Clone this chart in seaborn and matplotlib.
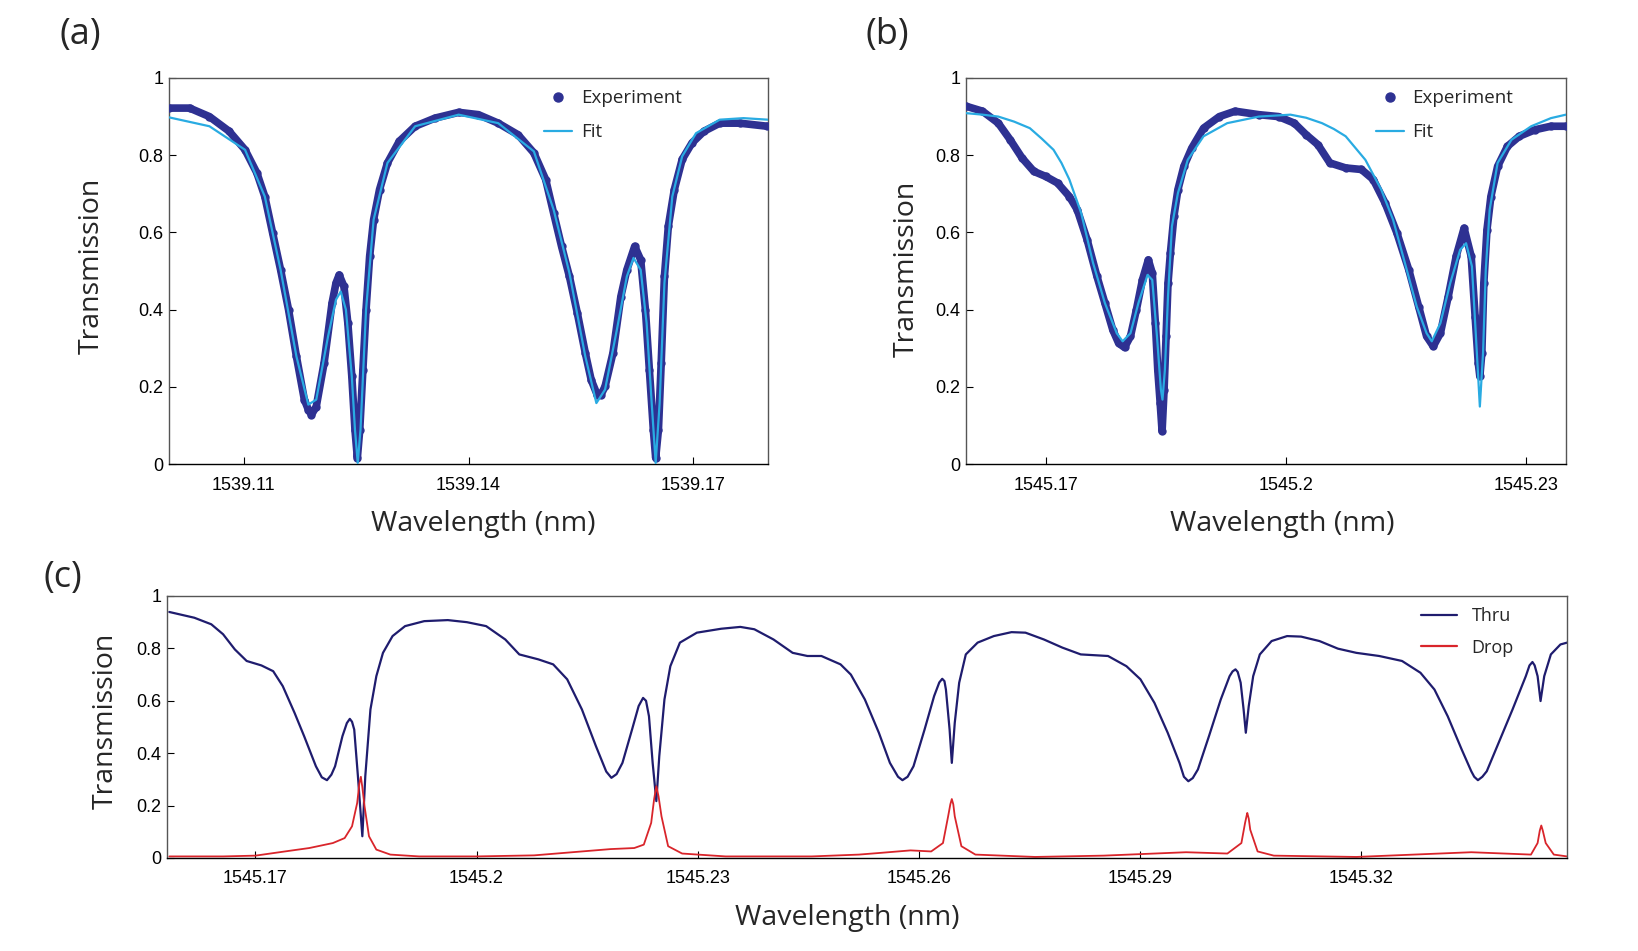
import numpy as np
import pandas as pd
import matplotlib
matplotlib.use("Agg")
import matplotlib.pyplot as plt
from matplotlib.lines import Line2D
from matplotlib.ticker import FixedLocator, FixedFormatter
import seaborn as sns

# ---------------- data ----------------
# (a) 1539 nm resonances
a_exp_wl = [1539.10000, 1539.10275, 1539.10539, 1539.10803, 1539.11015, 1539.11173, 1539.11279, 1539.11384,
            1539.11490, 1539.11596, 1539.11701, 1539.11807, 1539.11860, 1539.11902, 1539.11966, 1539.12071,
            1539.12177, 1539.12230, 1539.12272, 1539.12336, 1539.12388, 1539.12441, 1539.12483, 1539.12515,
            1539.12547, 1539.12589, 1539.12631, 1539.12679, 1539.12732, 1539.12811, 1539.12917, 1539.13075,
            1539.13287, 1539.13551, 1539.13868, 1539.14132, 1539.14396, 1539.14661, 1539.14872, 1539.15030,
            1539.15136, 1539.15242, 1539.15347, 1539.15453, 1539.15559, 1539.15638, 1539.15717, 1539.15770,
            1539.15823, 1539.15929, 1539.16034, 1539.16114, 1539.16219, 1539.16299, 1539.16362, 1539.16415,
            1539.16468, 1539.16499, 1539.16536, 1539.16573, 1539.16616, 1539.16668, 1539.16748, 1539.16853,
            1539.16985, 1539.17144, 1539.17355, 1539.17620, 1539.17989]
a_exp_t = [0.922, 0.922, 0.900, 0.862, 0.814, 0.754, 0.693, 0.598, 0.503, 0.400,
           0.279, 0.167, 0.141, 0.128, 0.149, 0.262, 0.417, 0.469, 0.490, 0.460,
           0.365, 0.227, 0.089, 0.016, 0.089, 0.244, 0.400, 0.538, 0.633, 0.711,
           0.780, 0.836, 0.875, 0.896, 0.911, 0.905, 0.883, 0.853, 0.806, 0.737,
           0.650, 0.564, 0.486, 0.391, 0.288, 0.218, 0.180, 0.180, 0.201, 0.288,
           0.434, 0.503, 0.564, 0.529, 0.400, 0.244, 0.089, 0.016, 0.089, 0.262,
           0.486, 0.616, 0.711, 0.789, 0.832, 0.862, 0.883, 0.883, 0.875]
a_fit_wl = [1539.10000, 1539.10539, 1539.11015, 1539.11279, 1539.11490, 1539.11701, 1539.11860, 1539.11966,
            1539.12124, 1539.12230, 1539.12293, 1539.12362, 1539.12441, 1539.12483, 1539.12520, 1539.12557,
            1539.12631, 1539.12732, 1539.12917, 1539.13287, 1539.13868, 1539.14396, 1539.14872, 1539.15136,
            1539.15347, 1539.15559, 1539.15707, 1539.15823, 1539.15981, 1539.16114, 1539.16203, 1539.16299,
            1539.16378, 1539.16446, 1539.16499, 1539.16552, 1539.16616, 1539.16721, 1539.16853, 1539.17038,
            1539.17355, 1539.17672, 1539.18000]
a_fit_t = [0.898, 0.875, 0.814, 0.693, 0.503, 0.279, 0.154, 0.167, 0.331, 0.426,
           0.447, 0.400, 0.227, 0.089, 0.003, 0.089, 0.400, 0.633, 0.780, 0.875,
           0.905, 0.883, 0.810, 0.659, 0.495, 0.279, 0.158, 0.193, 0.348, 0.486,
           0.534, 0.503, 0.365, 0.158, 0.003, 0.158, 0.469, 0.693, 0.797, 0.857,
           0.892, 0.896, 0.892]

# (b) 1545 nm resonances
b_exp_wl = [1545.16000, 1545.16207, 1545.16405, 1545.16553, 1545.16701, 1545.16849, 1545.16997, 1545.17145,
            1545.17293, 1545.17391, 1545.17515, 1545.17638, 1545.17737, 1545.17835, 1545.17909, 1545.17983,
            1545.18057, 1545.18131, 1545.18206, 1545.18280, 1545.18329, 1545.18368, 1545.18398, 1545.18428,
            1545.18452, 1545.18477, 1545.18502, 1545.18526, 1545.18556, 1545.18600, 1545.18650, 1545.18724,
            1545.18822, 1545.18970, 1545.19168, 1545.19365, 1545.19661, 1545.19908, 1545.20105, 1545.20253,
            1545.20401, 1545.20549, 1545.20747, 1545.20944, 1545.21092, 1545.21240, 1545.21388, 1545.21536,
            1545.21659, 1545.21758, 1545.21842, 1545.21931, 1545.22029, 1545.22128, 1545.22227, 1545.22316,
            1545.22365, 1545.22404, 1545.22424, 1545.22449, 1545.22474, 1545.22513, 1545.22562, 1545.22646,
            1545.22769, 1545.22917, 1545.23115, 1545.23312, 1545.23500]
b_exp_t = [0.927, 0.914, 0.883, 0.840, 0.793, 0.758, 0.745, 0.728, 0.693, 0.659,
           0.581, 0.486, 0.417, 0.348, 0.313, 0.302, 0.331, 0.400, 0.477, 0.529,
           0.495, 0.365, 0.244, 0.158, 0.085, 0.193, 0.331, 0.469, 0.547, 0.642,
           0.711, 0.771, 0.818, 0.870, 0.900, 0.914, 0.905, 0.900, 0.883, 0.853,
           0.827, 0.780, 0.767, 0.763, 0.737, 0.676, 0.598, 0.503, 0.408, 0.331,
           0.305, 0.339, 0.434, 0.538, 0.611, 0.538, 0.382, 0.262, 0.227, 0.288,
           0.469, 0.607, 0.693, 0.771, 0.823, 0.849, 0.866, 0.875, 0.875]
b_fit_wl = [1545.16000, 1545.16207, 1545.16405, 1545.16602, 1545.16799, 1545.16947, 1545.17095, 1545.17194,
            1545.17293, 1545.17441, 1545.17589, 1545.17737, 1545.17885, 1545.17959, 1545.18057, 1545.18156,
            1545.18270, 1545.18329, 1545.18388, 1545.18437, 1545.18457, 1545.18487, 1545.18526, 1545.18575,
            1545.18650, 1545.18773, 1545.18970, 1545.19266, 1545.19661, 1545.20056, 1545.20253, 1545.20451,
            1545.20598, 1545.20747, 1545.20993, 1545.21191, 1545.21339, 1545.21487, 1545.21635, 1545.21758,
            1545.21823, 1545.21931, 1545.22054, 1545.22178, 1545.22252, 1545.22325, 1545.22375, 1545.22424,
            1545.22464, 1545.22498, 1545.22547, 1545.22646, 1545.22819, 1545.23066, 1545.23312, 1545.23500]
b_fit_t = [0.909, 0.905, 0.900, 0.887, 0.870, 0.843, 0.814, 0.780,
           0.737, 0.650, 0.521, 0.417, 0.339, 0.318, 0.339, 0.417,
           0.490, 0.477, 0.331, 0.193, 0.167, 0.244, 0.434, 0.616,
           0.702, 0.788, 0.849, 0.883, 0.900, 0.905, 0.897, 0.883,
           0.868, 0.849, 0.788, 0.711, 0.633, 0.521, 0.408, 0.339,
           0.318, 0.365, 0.469, 0.555, 0.572, 0.512, 0.331, 0.149,
           0.288, 0.503, 0.659, 0.780, 0.840, 0.875, 0.896, 0.905]

# (c) through and drop ports
c_thru_wl = [1545.1583, 1545.1617, 1545.1640, 1545.1656, 1545.1672, 1545.1688, 1545.1708, 1545.1724,
             1545.1737, 1545.1753, 1545.1766, 1545.1782, 1545.1790, 1545.1797, 1545.1803, 1545.1808,
             1545.1818, 1545.1824, 1545.1828, 1545.1831, 1545.1834, 1545.1839, 1545.1845, 1545.1849,
             1545.1856, 1545.1864, 1545.1873, 1545.1886, 1545.1903, 1545.1929, 1545.1961, 1545.1987,
             1545.2013, 1545.2039, 1545.2058, 1545.2084, 1545.2104, 1545.2123, 1545.2143, 1545.2162,
             1545.2176, 1545.2183, 1545.2190, 1545.2198, 1545.2211, 1545.2220, 1545.2226, 1545.2230,
             1545.2234, 1545.2239, 1545.2244, 1545.2248, 1545.2255, 1545.2263, 1545.2276, 1545.2299,
             1545.2332, 1545.2358, 1545.2377, 1545.2403, 1545.2429, 1545.2449, 1545.2468, 1545.2494,
             1545.2508, 1545.2527, 1545.2546, 1545.2561, 1545.2572, 1545.2578, 1545.2585, 1545.2593,
             1545.2608, 1545.2621, 1545.2628, 1545.2632, 1545.2635, 1545.2637, 1545.2642, 1545.2645,
             1545.2649, 1545.2655, 1545.2664, 1545.2680, 1545.2702, 1545.2726, 1545.2745, 1545.2770,
             1545.2795, 1545.2820, 1545.2857, 1545.2882, 1545.2901, 1545.2920, 1545.2938, 1545.2954,
             1545.2960, 1545.2966, 1545.2972, 1545.2979, 1545.2994, 1545.3010, 1545.3022, 1545.3026,
             1545.3030, 1545.3033, 1545.3037, 1545.3041, 1545.3044, 1545.3048, 1545.3054, 1545.3063,
             1545.3079, 1545.3100, 1545.3119, 1545.3144, 1545.3169, 1545.3194, 1545.3225, 1545.3256,
             1545.3281, 1545.3300, 1545.3318, 1545.3337, 1545.3350, 1545.3354, 1545.3359, 1545.3365,
             1545.3371, 1545.3387, 1545.3406, 1545.3424, 1545.3429, 1545.3433, 1545.3436, 1545.3440,
             1545.3444, 1545.3449, 1545.3458, 1545.3471, 1545.3480]
c_thru_t = [0.939, 0.917, 0.892, 0.854, 0.796, 0.752, 0.735, 0.713,
            0.656, 0.554, 0.465, 0.350, 0.308, 0.297, 0.318, 0.350,
            0.465, 0.515, 0.531, 0.520, 0.490, 0.312, 0.083, 0.312,
            0.567, 0.694, 0.783, 0.847, 0.885, 0.904, 0.908, 0.900,
            0.885, 0.834, 0.777, 0.758, 0.739, 0.682, 0.567, 0.427,
            0.330, 0.306, 0.320, 0.363, 0.490, 0.580, 0.611, 0.600,
            0.541, 0.363, 0.217, 0.389, 0.605, 0.732, 0.822, 0.860,
            0.875, 0.882, 0.873, 0.834, 0.783, 0.771, 0.771, 0.739,
            0.700, 0.605, 0.478, 0.363, 0.310, 0.297, 0.310, 0.350,
            0.490, 0.618, 0.670, 0.684, 0.675, 0.643, 0.490, 0.363,
            0.516, 0.669, 0.777, 0.822, 0.847, 0.862, 0.860, 0.834,
            0.803, 0.777, 0.771, 0.732, 0.682, 0.592, 0.478, 0.363,
            0.310, 0.293, 0.305, 0.338, 0.465, 0.605, 0.694, 0.712,
            0.720, 0.710, 0.669, 0.567, 0.478, 0.580, 0.694, 0.777,
            0.828, 0.847, 0.845, 0.828, 0.799, 0.783, 0.771, 0.752,
            0.707, 0.643, 0.541, 0.414, 0.331, 0.310, 0.297, 0.310,
            0.331, 0.439, 0.567, 0.694, 0.735, 0.748, 0.735, 0.694,
            0.599, 0.694, 0.777, 0.815, 0.822]
c_drop_wl = [1545.1583, 1545.1656, 1545.1700, 1545.1740, 1545.1773, 1545.1805, 1545.1821, 1545.1831,
             1545.1838, 1545.1841, 1545.1843, 1545.1845, 1545.1848, 1545.1854, 1545.1864, 1545.1883,
             1545.1922, 1545.2000, 1545.2078, 1545.2143, 1545.2182, 1545.2214, 1545.2227, 1545.2237,
             1545.2241, 1545.2244, 1545.2247, 1545.2251, 1545.2260, 1545.2279, 1545.2338, 1545.2455,
             1545.2519, 1545.2546, 1545.2589, 1545.2617, 1545.2633, 1545.2640, 1545.2643, 1545.2645,
             1545.2647, 1545.2649, 1545.2658, 1545.2677, 1545.2758, 1545.2851, 1545.2963, 1545.3019,
             1545.3038, 1545.3043, 1545.3045, 1545.3046, 1545.3048, 1545.3050, 1545.3060, 1545.3082,
             1545.3194, 1545.3350, 1545.3431, 1545.3440, 1545.3443, 1545.3445, 1545.3447, 1545.3451,
             1545.3462, 1545.3480]
c_drop_t = [0.006, 0.006, 0.009, 0.025, 0.038, 0.057, 0.076, 0.121,
            0.210, 0.285, 0.310, 0.270, 0.197, 0.083, 0.032, 0.013,
            0.006, 0.006, 0.010, 0.025, 0.034, 0.038, 0.051, 0.134,
            0.225, 0.274, 0.235, 0.159, 0.045, 0.017, 0.006, 0.006,
            0.013, 0.019, 0.029, 0.025, 0.057, 0.159, 0.205, 0.225,
            0.205, 0.159, 0.045, 0.013, 0.004, 0.009, 0.022, 0.017,
            0.057, 0.134, 0.160, 0.172, 0.150, 0.108, 0.025, 0.009,
            0.004, 0.022, 0.013, 0.057, 0.105, 0.124, 0.105, 0.057,
            0.013, 0.006]

y_ticks = [0, 0.2, 0.4, 0.6, 0.8, 1]
y_ticklabels = ['0', '0.2', '0.4', '0.6', '0.8', '1']
a_xticks = [1539.11, 1539.14, 1539.17]
a_xticklabels = ['1539.11', '1539.14', '1539.17']
b_xticks = [1545.17, 1545.20, 1545.23]
b_xticklabels = ['1545.17', '1545.2', '1545.23']
c_xticks = [1545.17, 1545.20, 1545.23, 1545.26, 1545.29, 1545.32]
c_xticklabels = ['1545.17', '1545.2', '1545.23', '1545.26', '1545.29', '1545.32']

# ---------------- style ----------------
sns.set_style('ticks')
plt.rcParams['font.family'] = ['Liberation Sans', 'DejaVu Sans']
LABEL_FONT = ['Open Sans', 'DejaVu Sans']

EXP_COL = '#2E3192'
FIT_COL = '#29ABE2'
THRU_COL = '#1F1C6E'
DROP_COL = '#D9252B'

fig = plt.figure(figsize=(16.38, 9.51), dpi=100)
ax_a = fig.add_axes([0.1032, 0.512, 0.3657, 0.406])
ax_b = fig.add_axes([0.5897, 0.512, 0.3663, 0.406])
ax_c = fig.add_axes([0.1020, 0.0978, 0.8547, 0.2755])


def style_axes(ax, xticks, xlabels, xlim, ylab_x, ylab_y, xlab_x, xlab_y):
    ax.set_xlim(*xlim)
    ax.set_ylim(0, 1)
    ax.xaxis.set_major_locator(FixedLocator(xticks))
    ax.xaxis.set_major_formatter(FixedFormatter(xlabels))
    ax.yaxis.set_major_locator(FixedLocator(y_ticks))
    ax.yaxis.set_major_formatter(FixedFormatter(y_ticklabels))
    ax.tick_params(axis='x', direction='in', length=5, width=0.8, pad=9, labelsize=13, colors='black')
    ax.tick_params(axis='y', direction='in', length=5, width=0.8, pad=4, labelsize=13, colors='black')
    for side in ['top', 'right', 'left']:
        ax.spines[side].set_color('#555555')
        ax.spines[side].set_linewidth(1.0)
    ax.spines['bottom'].set_color('black')
    ax.spines['bottom'].set_linewidth(1.0)
    ax.set_xlabel('Wavelength (nm)', fontsize=20.5, family=LABEL_FONT)
    ax.set_ylabel('Transmission', fontsize=20.5, family=LABEL_FONT)
    ax.xaxis.set_label_coords(xlab_x, xlab_y)
    ax.yaxis.set_label_coords(ylab_x, ylab_y)


def fit_panel(ax, exp_wl, exp_t, fit_wl, fit_t):
    exp = pd.DataFrame({'wl': exp_wl, 't': exp_t})
    fit = pd.DataFrame({'wl': fit_wl, 't': fit_t})
    # dense measured points form a thick band
    ax.plot(exp['wl'], exp['t'], color=EXP_COL, lw=5.5, solid_joinstyle='round', zorder=2)
    sns.scatterplot(data=exp, x='wl', y='t', color=EXP_COL, s=36, linewidth=0, ax=ax, zorder=3)
    sns.lineplot(data=fit, x='wl', y='t', color=FIT_COL, lw=1.6, ax=ax, zorder=4)


fit_panel(ax_a, a_exp_wl, a_exp_t, a_fit_wl, a_fit_t)
fit_panel(ax_b, b_exp_wl, b_exp_t, b_fit_wl, b_fit_t)

thru = pd.DataFrame({'wl': c_thru_wl, 't': c_thru_t})
drop = pd.DataFrame({'wl': c_drop_wl, 't': c_drop_t})
sns.lineplot(data=thru, x='wl', y='t', color=THRU_COL, lw=1.6, ax=ax_c)
sns.lineplot(data=drop, x='wl', y='t', color=DROP_COL, lw=1.3, ax=ax_c)

style_axes(ax_a, a_xticks, a_xticklabels, (1539.10, 1539.18), -0.105, 0.513, 0.524, -0.12)
style_axes(ax_b, b_xticks, b_xticklabels, (1545.16, 1545.235), -0.075, 0.505, 0.527, -0.12)
style_axes(ax_c, c_xticks, c_xticklabels, (1545.158, 1545.348), -0.0335, 0.523, 0.486, -0.176)

# legends
fit_handles = [Line2D([], [], color=EXP_COL, marker='o', linestyle='none', markersize=6.5),
               Line2D([], [], color=FIT_COL, lw=1.6)]
for ax, x0 in [(ax_a, 0.598), (ax_b, 0.655)]:
    ax.legend(fit_handles, ['Experiment', 'Fit'], loc='upper left', bbox_to_anchor=(x0, 1.014),
              frameon=False, handlelength=1.5, handletextpad=0.45, labelspacing=0.85,
              prop={'family': LABEL_FONT, 'size': 13.5})
c_handles = [Line2D([], [], color=THRU_COL, lw=1.6), Line2D([], [], color=DROP_COL, lw=1.6)]
ax_c.legend(c_handles, ['Thru', 'Drop'], loc='upper left', bbox_to_anchor=(0.884, 1.02),
            frameon=False, handlelength=2.0, handletextpad=0.8, labelspacing=0.75,
            prop={'family': LABEL_FONT, 'size': 13})

# panel letters
for txt, x, y in [('(a)', 0.0491, 0.9627), ('(b)', 0.5414, 0.9627), ('(c)', 0.0383, 0.392)]:
    fig.text(x, y, txt, fontsize=26, family=LABEL_FONT, ha='center', va='center')

fig.savefig('out.png', dpi=100)
